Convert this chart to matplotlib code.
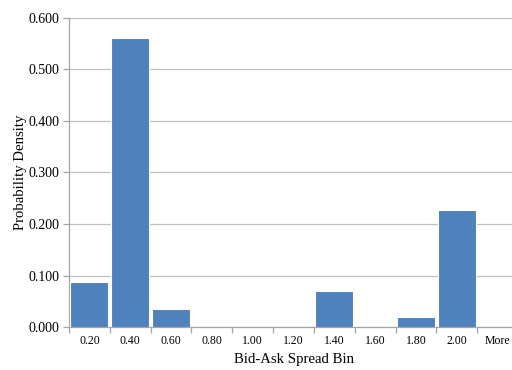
import matplotlib.pyplot as plt
import numpy as np

bins = ['0.20', '0.40', '0.60', '0.80', '1.00', '1.20', '1.40', '1.60', '1.80', '2.00', 'More']
density = [0.088, 0.561, 0.035, 0.0, 0.0, 0.0, 0.070, 0.0, 0.019, 0.228, 0.0]

plt.rcParams['font.family'] = ['Liberation Serif', 'DejaVu Serif']

fig = plt.figure(figsize=(5.12, 3.70), dpi=100)
ax = fig.add_axes([0.1348, 0.1162, 0.8769, 0.8352])

x = np.arange(len(bins))
ax.bar(x, density, width=0.93, color='#4F81BD', edgecolor='white', linewidth=0.8, zorder=3)

ax.set_xlim(-0.5, len(bins) - 0.5)
ax.set_ylim(0, 0.6)
ax.set_yticks(np.arange(0, 0.61, 0.1))
ax.set_yticklabels(['%.3f' % v for v in np.arange(0, 0.61, 0.1)], fontsize=10)
ax.yaxis.grid(True, color='#BFBFBF', linewidth=0.9, zorder=0)

# labels sit under the bars, tick marks at the bin boundaries
ax.set_xticks(x)
ax.set_xticklabels(bins, fontsize=8.5)
ax.set_xticks(np.arange(-0.5, len(bins), 1.0), minor=True)
ax.tick_params(axis='x', which='major', length=0, pad=6)
ax.tick_params(axis='x', which='minor', length=4, color='#A6A6A6', width=0.9)
ax.tick_params(axis='y', length=4, color='#A6A6A6', width=0.9, pad=3)

for side in ['top', 'right']:
    ax.spines[side].set_visible(False)
for side in ['left', 'bottom']:
    ax.spines[side].set_color('#A6A6A6')
    ax.spines[side].set_linewidth(0.9)

ax.set_xlabel('Bid-Ask Spread Bin', fontsize=10.6, labelpad=4)
ax.set_ylabel('Probability Density', fontsize=10.6, labelpad=1)

plt.savefig('out.png', dpi=100)
